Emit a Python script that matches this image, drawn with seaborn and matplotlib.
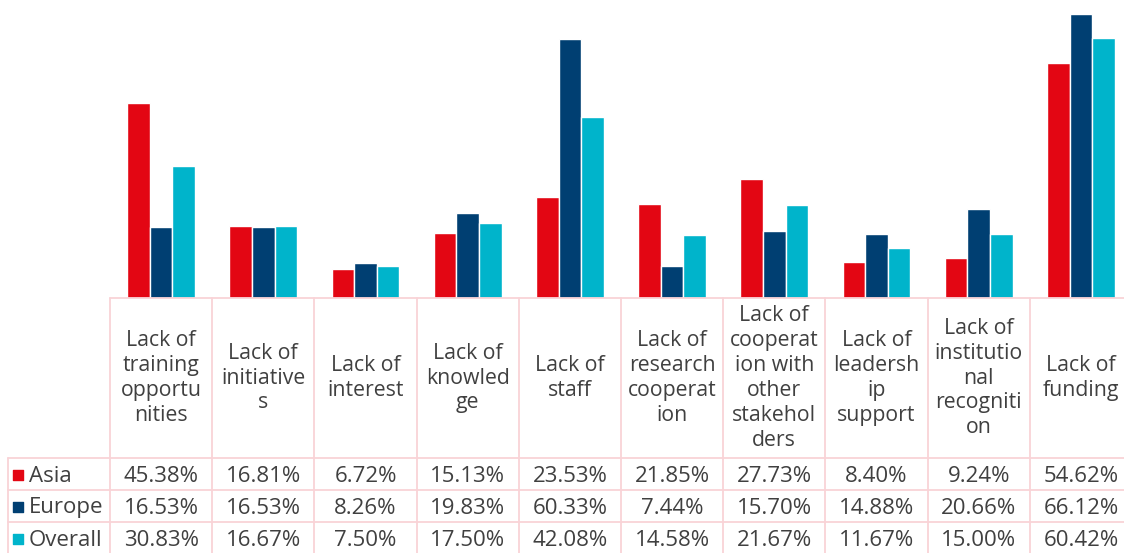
import matplotlib
matplotlib.use("Agg")
import matplotlib.pyplot as plt
import seaborn as sns
import pandas as pd

categories = [
    "Lack of training opportunities", "Lack of initiatives", "Lack of interest",
    "Lack of knowledge", "Lack of staff", "Lack of research cooperation",
    "Lack of cooperation with other stakeholders", "Lack of leadership support",
    "Lack of institutional recognition", "Lack of funding",
]
header_labels = [
    "Lack of\ntraining\nopportu\nnities", "Lack of\ninitiative\ns", "Lack of\ninterest",
    "Lack of\nknowled\nge", "Lack of\nstaff", "Lack of\nresearch\ncooperat\nion",
    "Lack of\ncooperat\nion with\nother\nstakehol\nders", "Lack of\nleadersh\nip\nsupport",
    "Lack of\ninstitutio\nnal\nrecogniti\non", "Lack of\nfunding",
]
regions = ["Asia", "Europe", "Overall"]
asia = [45.38, 16.81, 6.72, 15.13, 23.53, 21.85, 27.73, 8.40, 9.24, 54.62]
europe = [16.53, 16.53, 8.26, 19.83, 60.33, 7.44, 15.70, 14.88, 20.66, 66.12]
overall = [30.83, 16.67, 7.50, 17.50, 42.08, 14.58, 21.67, 11.67, 15.00, 60.42]
colors = ["#E30613", "#003F72", "#00B4CB"]

series = {"Asia": asia, "Europe": europe, "Overall": overall}
rows = []
for reg in regions:
    for cat, v in zip(categories, series[reg]):
        rows.append({"category": cat, "region": reg, "value": v})
df = pd.DataFrame(rows)

sns.set_theme(style="white")
plt.rcParams["font.family"] = ["Open Sans", "DejaVu Sans"]
text_color = "#404040"
grid_color = "#F9D3D7"
fsize = 16

# layout in pixels
W, H = 1124, 553
x0, cw = 110, 102.2
base_y = 298
px_per_pct = 4.295


def px2x(p):
    return (p - x0) / cw - 0.5


fig = plt.figure(figsize=(W / 100, H / 100), dpi=100)
ax = fig.add_axes([0, (H - base_y) / H, 1, base_y / H])
sns.barplot(data=df, x="category", y="value", hue="region", palette=colors,
            width=0.665, gap=0, saturation=1, legend=False, ax=ax)
ax.set_xlim(px2x(0), px2x(W))
ax.set_ylim(0, base_y / px_per_pct)
ax.axis("off")

tab = fig.add_axes([0, 0, 1, (H - base_y) / H])
tab.set_xlim(px2x(0), px2x(W))
tab.set_ylim(H - base_y, 0)
tab.axis("off")

head_h, row_h = 160, 32
n = len(categories)
left = px2x(8)
xmax = px2x(W + 20)
bottom = head_h + row_h * len(regions)

tab.plot([-0.5, xmax], [0, 0], color=grid_color, lw=1.3, clip_on=False)
for k in range(len(regions) + 1):
    y = head_h + row_h * k
    tab.plot([left, xmax], [y, y], color=grid_color, lw=1.3, clip_on=False)
for i in range(n + 1):
    tab.plot([i - 0.5, i - 0.5], [0, bottom], color=grid_color, lw=1.3, clip_on=False)
tab.plot([left, left], [head_h, bottom], color=grid_color, lw=1.3, clip_on=False)

for i, lab in enumerate(header_labels):
    tab.text(i, head_h / 2, lab, ha="center", va="center", fontsize=15.3,
             color=text_color, linespacing=1.24)

for r, reg in enumerate(regions):
    yc = head_h + row_h * r + row_h / 2
    for i, v in enumerate(series[reg]):
        tab.text(i, yc + 2, f"{v:.2f}%", ha="center", va="center", fontsize=fsize,
                 color=text_color)
    tab.scatter([px2x(17.5)], [yc + 1], marker="s", s=60, color=colors[r], clip_on=False)
    tab.text(px2x(29), yc + 2, reg, ha="left", va="center", fontsize=fsize, color=text_color)

fig.savefig("out.png", dpi=100)
